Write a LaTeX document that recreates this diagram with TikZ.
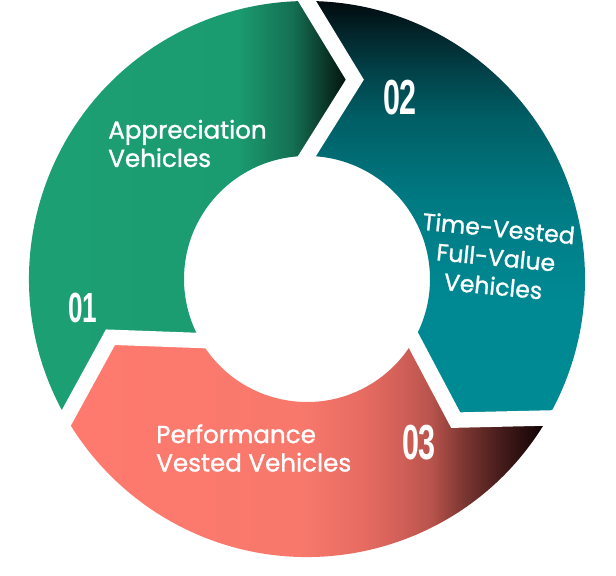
\documentclass[tikz,border=0pt]{standalone}
\usepackage{fontspec}
\setmainfont{Poppins}
\newfontfamily\labelfont{Poppins}[FakeBold=1.2]
\newfontfamily\numfont{Liberation Sans}
\usepackage{graphicx}
\usetikzlibrary{calc}
% segment colours
\definecolor{g0}{RGB}{28,160,115}
\definecolor{g1}{RGB}{27,155,112}
\definecolor{g2}{RGB}{20,112,82}
\definecolor{g3}{RGB}{12,65,48}
\definecolor{g4}{RGB}{3,18,13}
\definecolor{g5}{RGB}{0,0,0}
\definecolor{t0}{RGB}{0,138,148}
\definecolor{t1}{RGB}{0,137,147}
\definecolor{t2}{RGB}{0,122,131}
\definecolor{t3}{RGB}{0,95,102}
\definecolor{t4}{RGB}{2,65,72}
\definecolor{t5}{RGB}{2,35,40}
\definecolor{t6}{RGB}{2,8,12}
\definecolor{s0}{RGB}{255,122,110}
\definecolor{s1}{RGB}{248,120,108}
\definecolor{s2}{RGB}{232,108,98}
\definecolor{s3}{RGB}{210,96,88}
\definecolor{s4}{RGB}{185,84,76}
\definecolor{s5}{RGB}{125,55,50}
\definecolor{s6}{RGB}{70,28,27}
\definecolor{s7}{RGB}{20,5,5}
\definecolor{s8}{RGB}{15,3,3}
\pgfdeclarehorizontalshading{greenfade}{100bp}{color(0bp)=(g0); color(25bp)=(g0); color(56bp)=(g1); color(64bp)=(g2); color(68bp)=(g3); color(72bp)=(g4); color(74bp)=(g5); color(100bp)=(g5)}
\pgfdeclareverticalshading{tealfade}{100bp}{color(0bp)=(t0); color(25bp)=(t0); color(39bp)=(t1); color(51bp)=(t2); color(60.6bp)=(t3); color(66.5bp)=(t4); color(71.3bp)=(t5); color(75bp)=(t6); color(100bp)=(t6)}
\pgfdeclarehorizontalshading{salmonfade}{100bp}{color(0bp)=(s0); color(25bp)=(s0); color(49.3bp)=(s1); color(55.4bp)=(s2); color(59.5bp)=(s3); color(62.6bp)=(s4); color(65.9bp)=(s5); color(69.7bp)=(s6); color(73.8bp)=(s7); color(75bp)=(s8); color(100bp)=(s8)}
\def\Ro{278}
\def\Ri{123}
\def\Rm{205}
\newcommand\ringseg[2]{(#1:\Ro) arc[start angle=#1, end angle=#2, radius=\Ro] -- (#2-13.5:\Rm) -- (#2:\Ri) arc[start angle=#2, end angle=#1, radius=\Ri] -- (#1-13.5:\Rm) -- cycle}
\tikzset{
	labeltext/.style={text=white, inner sep=0pt, align=left, font=\labelfont\fontsize{17.5}{20.2}\selectfont},
	numtext/.style={text=white, inner sep=0pt, font=\numfont\bfseries\fontsize{35}{35}\selectfont}
}

\begin{document}
\begin{tikzpicture}[x=0.025cm, y=0.025cm]
	\useasboundingbox (-307,-296) rectangle (309,279);
	\fill[white] (-307,-296) rectangle (309,279);
	
	\begin{scope}
		\clip \ringseg{210}{90};
		\shade[shading=greenfade] (-280,-140) rectangle (60,285);
	\end{scope}
	\begin{scope}
		\clip \ringseg{90}{-30};
		\shade[shading=tealfade] (-20,-140) rectangle (300,280);
	\end{scope}
	\begin{scope}
		\clip \ringseg{-30}{-150};
		\shade[shading=salmonfade] (-245,-285) rectangle (245,-50);
	\end{scope}
	
	% white gaps between the arrows
	\foreach \a/\n in {90/a,-30/b,210/c} {
		\coordinate (o\n) at (\a:\Ro);
		\coordinate (t\n) at (\a-13.5:\Rm);
		\coordinate (i\n) at (\a:\Ri);
		\fill[white] ($(t\n)!1.2!(o\n)+(\a+90:9)$) -- ($(t\n)+(\a+90:9)$) -- ($(t\n)!1.3!(i\n)+(\a+90:9)$)
			-- ($(t\n)!1.3!(i\n)+(\a-90:9)$) -- ($(t\n)+(\a-90:9)$) -- ($(t\n)!1.2!(o\n)+(\a-90:9)$) -- cycle;
	}
	
	\node[labeltext, anchor=west] (apprec) at (-199,135.5) {Appreciation\\Vehicles};
	\node[labeltext, align=center, rotate=-5.5, font=\labelfont\fontsize{16.8}{20.6}\selectfont] (timev) at (189,22) {Time-Vested\\Full-Value\\Vehicles};
	\node[labeltext, anchor=west] (perf) at (-151,-169) {Performance\\Vested Vehicles};
	
	\node[numtext, font=\numfont\bfseries\fontsize{30}{30}\selectfont] (n1) at (-224,-29) {\scalebox{0.62}[1]{01}};
	\node[numtext] (n2) at (93,181.5) {\scalebox{0.62}[1]{02}};
	\node[numtext] (n3) at (112,-164) {\scalebox{0.62}[1]{03}};
\end{tikzpicture}
\end{document}
